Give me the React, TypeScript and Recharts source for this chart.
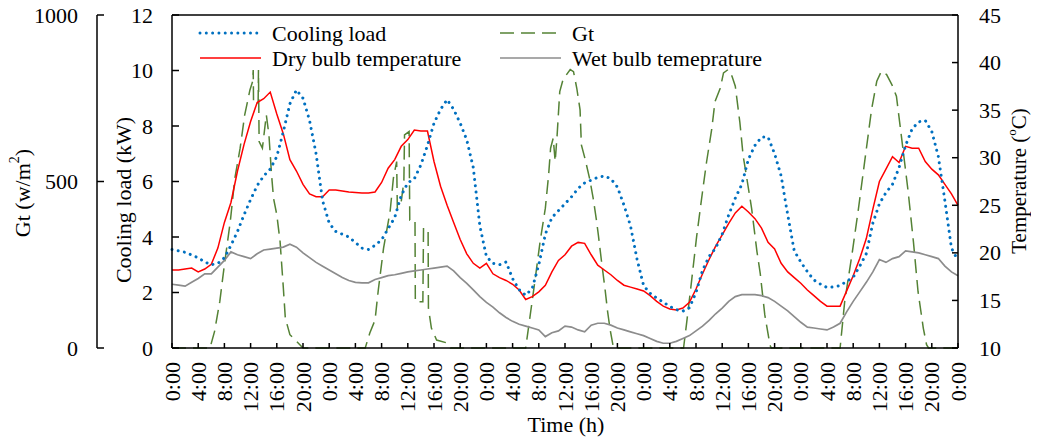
import React from 'react';
import { LineChart, Line, XAxis, YAxis, Legend, ReferenceLine } from 'recharts';

const FONT = "'Liberation Serif', 'Times New Roman', Times, serif";

const SERIES_NAMES = ['Cooling load', 'Gt', 'Dry bulb temperature', 'Wet bulb temeprature'];

const TIME_TICKS = [0, 4, 8, 12, 16, 20, 24, 28, 32, 36, 40, 44, 48, 52, 56, 60, 64, 68, 72, 76, 80, 84, 88, 92, 96, 100, 104, 108, 112, 116, 120];
const TIME_LABELS = [
  '0:00', '4:00', '8:00', '12:00', '16:00', '20:00',
  '0:00', '4:00', '8:00', '12:00', '16:00', '20:00',
  '0:00', '4:00', '8:00', '12:00', '16:00', '20:00',
  '0:00', '4:00', '8:00', '12:00', '16:00', '20:00',
  '0:00', '4:00', '8:00', '12:00', '16:00', '20:00',
  '0:00',
];
const COOLING_TICKS = [0, 2, 4, 6, 8, 10, 12];
const GT_TICKS = [0, 500, 1000];
const TEMP_TICKS = [10, 15, 20, 25, 30, 35, 40, 45];

// hourly samples 0..120 h
const HOURS = Array.from({ length: 121 }, (_, i) => i);

const COOLING_LOAD = [
  3.55, 3.5, 3.45, 3.35, 3.25, 3.1, 3.0, 3.05, 3.25, 3.7,
  4.2, 4.8, 5.35, 5.85, 6.2, 6.45, 6.9, 7.8, 8.8, 9.3,
  9.0, 8.2, 7.0, 5.3, 4.5, 4.2, 4.1, 4.0, 3.8, 3.6,
  3.55, 3.7, 3.9, 4.3, 4.7, 5.5, 5.95, 6.1, 6.6, 7.3,
  8.1, 8.6, 8.95, 8.6, 8.1, 7.5, 6.5, 4.4, 3.3, 3.05,
  3.0, 3.1, 2.5, 2.1, 1.9, 2.15, 3.0, 4.1, 4.7, 4.95,
  5.2, 5.45, 5.75, 5.95, 6.05, 6.15, 6.2, 6.1, 5.8, 5.15,
  4.4, 3.2, 2.25, 1.97, 1.8, 1.65, 1.5, 1.38, 1.33, 1.45,
  2.0, 2.8, 3.3, 3.6, 4.1, 4.8, 5.4, 5.9, 6.8, 7.3,
  7.6, 7.6, 7.0, 6.2, 4.8, 3.5, 3.1, 2.75, 2.45, 2.3,
  2.18, 2.2, 2.25, 2.4, 2.55, 2.95, 3.4, 4.5, 5.2, 5.6,
  5.9, 6.5, 7.3, 7.9, 8.15, 8.2, 7.8, 6.9, 5.3, 3.6,
  3.15,
];

const DRY_BULB = [
  18.2, 18.2, 18.3, 18.4, 18.0, 18.3, 18.8, 20.5, 23.2, 25.3,
  28.6, 31.4, 33.8, 35.8, 36.2, 36.9, 34.6, 32.5, 29.8, 28.6,
  27.2, 26.2, 25.9, 25.9, 26.6, 26.6, 26.5, 26.4, 26.35, 26.3,
  26.3, 26.4, 27.4, 28.9, 29.8, 31.2, 31.9, 32.9, 32.8, 32.8,
  29.6, 27.0, 25.0, 23.2, 21.4, 19.9, 18.9, 18.4, 18.9, 17.8,
  17.4, 17.1, 16.7, 16.1, 15.1, 15.4, 15.9, 16.6, 18.0, 19.2,
  19.8, 20.7, 21.1, 21.0, 19.8, 18.7, 18.2, 17.7, 17.1, 16.6,
  16.4, 16.2, 16.0, 15.5, 14.9, 14.4, 14.1, 14.0, 14.2, 14.8,
  16.2, 17.8, 19.3, 20.7, 21.9, 23.1, 24.2, 24.9, 24.3, 23.6,
  22.6, 21.1, 20.4, 18.9, 18.0, 17.4, 16.8, 16.1, 15.5, 14.9,
  14.4, 14.4, 14.4, 16.0, 17.6, 19.4, 21.5, 24.6, 27.5, 28.8,
  30.1, 29.5, 31.2, 31.0, 31.0, 29.6, 28.8, 28.2, 27.2, 26.2,
  25.0,
];

const WET_BULB = [
  16.7, 16.6, 16.5, 16.9, 17.3, 17.8, 17.8, 18.5, 19.2, 20.1,
  19.8, 19.6, 19.4, 19.9, 20.3, 20.4, 20.5, 20.6, 20.9, 20.6,
  20.0, 19.5, 19.0, 18.6, 18.2, 17.8, 17.4, 17.1, 16.9, 16.85,
  16.85, 17.2, 17.4, 17.6, 17.7, 17.85, 18.0, 18.1, 18.2, 18.3,
  18.4, 18.5, 18.6, 18.1, 17.4, 16.8, 16.1, 15.4, 14.8, 14.3,
  13.7, 13.2, 12.8, 12.5, 12.3, 12.1, 11.9, 11.2, 11.6, 11.8,
  12.3, 12.2, 11.9, 11.7, 12.4, 12.6, 12.6, 12.4, 12.1, 11.9,
  11.7, 11.5, 11.3, 11.0, 10.7, 10.5, 10.5, 10.7, 11.0, 11.3,
  11.8, 12.3, 12.9, 13.6, 14.2, 14.9, 15.4, 15.6, 15.6, 15.6,
  15.5, 15.3, 14.9, 14.4, 13.9, 13.3, 12.7, 12.2, 12.1, 12.0,
  11.9, 12.2, 12.6, 13.8, 14.9, 15.9, 16.9, 18.0, 19.3, 19.0,
  19.4, 19.6, 20.2, 20.1, 20.0, 19.8, 19.6, 19.4, 18.6, 18.0,
  17.6,
];

// Gt sampled more finely where it changes quickly
const GT_TIME = [
  0, 5.8, 6.5, 7.3, 8, 8.9, 9.6, 10.4, 11.1, 11.9, 12.3, 12.4, 12.45, 13.15, 13.2, 13.3, 13.8, 14.4, 14.8, 15.2, 15.5, 16, 16.5, 17, 17.3, 18, 19, 20,
  29.5, 30.2, 31, 31.5, 32.3, 33.3, 33.8, 34.3, 34.4, 35, 35.4, 35.5, 36.2, 36.3, 37.1, 37.15, 38.3, 38.4, 39.1, 39.15, 39.6, 40.4, 42, 42.5,
  54, 54.7, 55.4, 56.2, 57, 57.5, 57.8, 58.2, 58.5, 58.8, 59.2, 59.7, 60.2, 60.8, 61.3, 61.8, 62.3, 62.5, 63.1, 63.8, 64.3, 64.8, 65.1, 65.6, 66.1, 66.5, 66.9, 67.4,
  78.1, 78.6, 79.2, 80.1, 81, 81.6, 82.4, 82.9, 83.7, 84.2, 84.9, 85.5, 86, 86.7, 87.2, 87.7, 88.5, 89.3, 89.8, 90.5, 91.3, 91.5,
  102, 102.7, 103.8, 104.8, 105.8, 106.8, 107.6, 108.3, 109.1, 109.9, 110.6, 111.1, 111.6, 112.4, 113.2, 113.9, 114.7, 115.2, 115.5, 120,
];
const GT_VALUE = [
  0, 0, 50, 140, 250, 380, 510, 600, 700, 775, 800, 835, 735, 735, 835, 620, 600, 700, 640, 520, 450, 400, 320, 180, 90, 40, 20, 0,
  0, 45, 84, 175, 300, 410, 510, 560, 420, 440, 500, 640, 650, 384, 384, 139, 139, 358, 358, 120, 60, 24, 15, 0,
  0, 100, 200, 320, 420, 520, 600, 630, 560, 640, 770, 806, 820, 836, 830, 780, 715, 610, 565, 505, 450, 384, 338, 256, 179, 110, 54, 0,
  0, 80, 180, 335, 470, 557, 657, 740, 780, 826, 836, 816, 786, 677, 577, 517, 418, 290, 225, 100, 8, 0,
  0, 139, 279, 418, 567, 716, 801, 831, 821, 791, 756, 677, 597, 468, 318, 169, 60, 10, 0, 0,
];

const BLUE = '#0070C0';
const GREEN = '#548235';
const RED = '#FF0000';
const GRAY = '#8C8C8C';

const STYLES = [
  { color: BLUE, dash: '0.01 6.3', width: 3, cap: 'round' },
  { color: GREEN, dash: '14 7', width: 1.5, cap: 'butt' },
  { color: RED, dash: undefined, width: 1.5, cap: 'butt' },
  { color: GRAY, dash: undefined, width: 1.7, cap: 'butt' },
];

function buildRows() {
  const map = new Map<number, any>();
  HOURS.forEach((h, i) => {
    map.set(h, { h, cl: COOLING_LOAD[i], dry: DRY_BULB[i], wet: WET_BULB[i] });
  });
  GT_TIME.forEach((t, i) => {
    const r = map.get(t) ?? { h: t };
    r.gt = GT_VALUE[i];
    map.set(t, r);
  });
  return Array.from(map.values()).sort((a, b) => a.h - b.h);
}

const ROWS = buildRows();

const textProps = { fontFamily: FONT, fontSize: 22, fill: '#000' };
const axisLine = { stroke: '#000', strokeWidth: 1.5 };

const LeftTick = (props: any) => {
  const { x, y, payload } = props;
  return (
    <g>
      <line x1={x} y1={y} x2={x + 7} y2={y} stroke="#000" strokeWidth={1.5} />
      <text x={x - 19} y={y} textAnchor="end" dominantBaseline="central" {...textProps}>
        {payload.value}
      </text>
    </g>
  );
};

const RightTick = (props: any) => {
  const { x, y, payload } = props;
  return (
    <g>
      <line x1={x} y1={y} x2={x - 6} y2={y} stroke="#000" strokeWidth={1.5} />
      <text x={x + 21} y={y} textAnchor="start" dominantBaseline="central" {...textProps}>
        {payload.value}
      </text>
    </g>
  );
};

const TimeTick = (props: any) => {
  const { x, y, payload } = props;
  const idx = TIME_TICKS.indexOf(payload.value);
  const label = idx >= 0 ? TIME_LABELS[idx] : '';
  const ty = y + 14;
  return (
    <g>
      <line x1={x} y1={y} x2={x} y2={y - 5} stroke="#000" strokeWidth={1.5} />
      <text
        x={x}
        y={ty}
        transform={`rotate(-90, ${x}, ${ty})`}
        textAnchor="end"
        dominantBaseline="central"
        {...textProps}
      >
        {label}
      </text>
    </g>
  );
};

const GtTitle = () => {
  const cx = 14;
  const cy = 185;
  return (
    <text x={cx} y={cy} transform={`rotate(-90, ${cx}, ${cy})`} textAnchor="middle" dominantBaseline="central" {...textProps}>
      Gt (w/m<tspan dy={-8} fontSize={14}>2</tspan>
      <tspan dy={8}>)</tspan>
    </text>
  );
};

const CoolingTitle = () => {
  const cx = 115;
  const cy = 192;
  return (
    <text x={cx} y={cy} transform={`rotate(-90, ${cx}, ${cy})`} textAnchor="middle" dominantBaseline="central" {...textProps}>
      Cooling load (kW)
    </text>
  );
};

const TempTitle = () => {
  const cx = 1011;
  const cy = 173;
  return (
    <text
      x={cx}
      y={cy}
      transform={`rotate(-90, ${cx}, ${cy})`}
      textAnchor="middle"
      dominantBaseline="central"
      {...textProps}
      fontSize={21}
    >
      Temperature (<tspan dy={-8} fontSize={13}>o</tspan>
      <tspan dy={8}>C)</tspan>
    </text>
  );
};

const TimeTitle = () => (
  <text x={558} y={416} textAnchor="middle" dominantBaseline="central" {...textProps}>
    Time (h)
  </text>
);

const renderLegend = () => (
  <div
    style={{
      display: 'grid',
      gridTemplateColumns: '300px 300px',
      gridAutoRows: '25px',
      fontFamily: FONT,
      fontSize: 22,
      color: '#000',
    }}
  >
    {[0, 1, 2, 3].map((i) => (
      <div key={i} style={{ display: 'flex', alignItems: 'center', height: 25, whiteSpace: 'nowrap' }}>
        <svg width={64} height={12} style={{ display: 'block', flex: 'none' }}>
          <line
            x1={2}
            y1={6}
            x2={63}
            y2={6}
            stroke={STYLES[i].color}
            strokeWidth={STYLES[i].width}
            strokeDasharray={STYLES[i].dash}
            strokeLinecap={STYLES[i].cap as any}
          />
        </svg>
        <span style={{ marginLeft: 10, lineHeight: '25px' }}>{SERIES_NAMES[i]}</span>
      </div>
    ))}
  </div>
);

export default function App() {
  return (
    <div style={{ width: 1023, height: 433 }}>
      <LineChart width={1023} height={433} data={ROWS} margin={{ top: 7, right: 0, bottom: 0, left: 0 }}>
        <XAxis
          dataKey="h"
          type="number"
          domain={[0, 120]}
          ticks={TIME_TICKS}
          interval={0}
          tickSize={0}
          tickMargin={0}
          tickLine={false}
          axisLine={axisLine}
          tick={<TimeTick />}
          height={93}
          label={<TimeTitle />}
        />
        <YAxis
          yAxisId="cl"
          orientation="left"
          domain={[0, 12]}
          ticks={COOLING_TICKS}
          interval={0}
          width={75}
          tickSize={0}
          tickMargin={0}
          tickLine={false}
          axisLine={axisLine}
          tick={<LeftTick />}
          label={<CoolingTitle />}
        />
        <YAxis
          yAxisId="gt"
          orientation="left"
          domain={[0, 1000]}
          ticks={GT_TICKS}
          interval={0}
          width={89}
          tickSize={0}
          tickMargin={0}
          tickLine={false}
          axisLine={axisLine}
          tick={<LeftTick />}
          label={<GtTitle />}
        />
        <YAxis
          yAxisId="t"
          orientation="right"
          domain={[10, 45]}
          ticks={TEMP_TICKS}
          interval={0}
          width={73}
          tickSize={0}
          tickMargin={0}
          tickLine={false}
          axisLine={axisLine}
          tick={<RightTick />}
          label={<TempTitle />}
        />
        <ReferenceLine yAxisId="cl" y={12} stroke="#000" strokeWidth={1.5} />
        <Legend
          layout="horizontal"
          align="center"
          verticalAlign="middle"
          wrapperStyle={{ top: 12.5, left: 190, width: 620, height: 50 }}
          content={renderLegend}
        />
        <Line
          yAxisId="gt"
          dataKey="gt"
          name={SERIES_NAMES[1]}
          type="linear"
          stroke={GREEN}
          strokeWidth={1.5}
          strokeDasharray="14 7"
          dot={false}
          activeDot={false}
          connectNulls
          isAnimationActive={false}
        />
        <Line
          yAxisId="t"
          dataKey="wet"
          name={SERIES_NAMES[3]}
          type="linear"
          stroke={GRAY}
          strokeWidth={1.7}
          dot={false}
          activeDot={false}
          connectNulls
          isAnimationActive={false}
        />
        <Line
          yAxisId="t"
          dataKey="dry"
          name={SERIES_NAMES[2]}
          type="linear"
          stroke={RED}
          strokeWidth={1.5}
          dot={false}
          activeDot={false}
          connectNulls
          isAnimationActive={false}
        />
        <Line
          yAxisId="cl"
          dataKey="cl"
          name={SERIES_NAMES[0]}
          type="linear"
          stroke={BLUE}
          strokeWidth={3}
          strokeDasharray="0.01 6.3"
          strokeLinecap="round"
          dot={false}
          activeDot={false}
          connectNulls
          isAnimationActive={false}
        />
      </LineChart>
    </div>
  );
}
